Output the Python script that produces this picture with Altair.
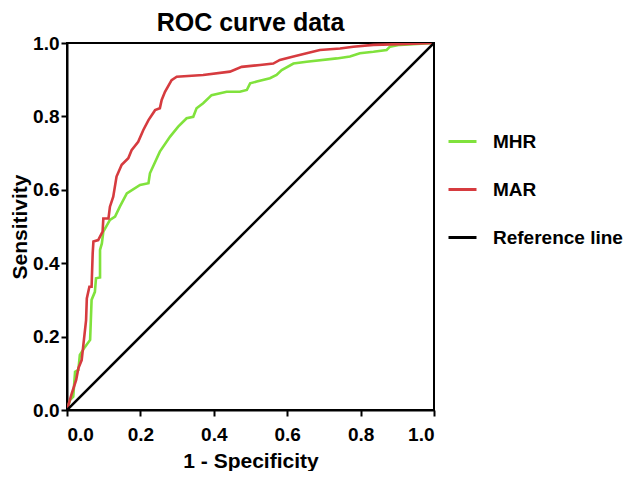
import altair as alt
import pandas as pd

# MAR ROC curve (1 - specificity, sensitivity)
mar_fpr = [0, 0.013, 0.025, 0.031, 0.040, 0.044, 0.052, 0.054, 0.061, 0.067, 0.070, 0.072,
           0.085, 0.097, 0.099, 0.113, 0.117, 0.126, 0.135, 0.149, 0.167, 0.176, 0.194, 0.208,
           0.222, 0.240, 0.253, 0.258, 0.267, 0.285, 0.299, 0.371, 0.444, 0.476, 0.526, 0.562,
           0.580, 0.617, 0.653, 0.689, 0.744, 0.780, 0.835, 0.907, 1.0]
mar_tpr = [0, 0.045, 0.082, 0.114, 0.136, 0.172, 0.245, 0.304, 0.336, 0.336, 0.427, 0.459,
           0.463, 0.486, 0.522, 0.522, 0.554, 0.581, 0.636, 0.668, 0.686, 0.708, 0.731, 0.763,
           0.790, 0.817, 0.822, 0.845, 0.867, 0.899, 0.908, 0.913, 0.922, 0.935, 0.940, 0.944,
           0.954, 0.963, 0.972, 0.981, 0.985, 0.990, 0.995, 0.997, 1.0]

# MHR ROC curve
mhr_fpr = [0, 0.008, 0.017, 0.022, 0.031, 0.035, 0.049, 0.063, 0.067, 0.076, 0.079, 0.090,
           0.090, 0.095, 0.099, 0.117, 0.131, 0.144, 0.163, 0.199, 0.222, 0.226, 0.253, 0.281,
           0.303, 0.326, 0.344, 0.353, 0.371, 0.394, 0.435, 0.471, 0.490, 0.499, 0.517, 0.553,
           0.571, 0.585, 0.617, 0.653, 0.735, 0.771, 0.798, 0.835, 0.871, 0.880, 0.907, 1.0]
mhr_tpr = [0, 0.027, 0.036, 0.104, 0.109, 0.150, 0.172, 0.191, 0.300, 0.322, 0.359, 0.361,
           0.436, 0.454, 0.486, 0.518, 0.527, 0.554, 0.590, 0.613, 0.618, 0.645, 0.704, 0.745,
           0.772, 0.795, 0.799, 0.822, 0.836, 0.858, 0.867, 0.867, 0.872, 0.890, 0.895, 0.904,
           0.913, 0.926, 0.944, 0.949, 0.958, 0.963, 0.972, 0.976, 0.981, 0.990, 0.995, 1.0]

# Reference line
ref_fpr = [0.0, 1.0]
ref_tpr = [0.0, 1.0]

series_names = ["MHR", "MAR", "Reference line"]
series_colors = ["#80E23C", "#D63B3F", "#000000"]
tick_values = [0.0, 0.2, 0.4, 0.6, 0.8, 1.0]

rows = []
for name, xs, ys in [("MHR", mhr_fpr, mhr_tpr), ("MAR", mar_fpr, mar_tpr),
                     ("Reference line", ref_fpr, ref_tpr)]:
    for i, (xv, yv) in enumerate(zip(xs, ys)):
        rows.append({"series": name, "fpr": xv, "tpr": yv, "idx": i})
df = pd.DataFrame(rows)

FONT = "Liberation Sans"

chart = alt.Chart(df).mark_line(strokeWidth=2.6, clip=True).encode(
    x=alt.X("fpr:Q", title="1 - Specificity",
            scale=alt.Scale(domain=[0, 1], nice=False),
            axis=alt.Axis(values=tick_values, format=".1f", labelPadding=9, titlePadding=6)),
    y=alt.Y("tpr:Q", title="Sensitivity",
            scale=alt.Scale(domain=[0, 1], nice=False),
            axis=alt.Axis(values=tick_values, format=".1f", labelPadding=2, titlePadding=2)),
    color=alt.Color("series:N",
                    scale=alt.Scale(domain=series_names, range=series_colors),
                    legend=alt.Legend(title=None, orient="none", legendX=380, legendY=83,
                                      symbolType="stroke", symbolSize=784,
                                      symbolStrokeWidth=3, labelOffset=15,
                                      rowPadding=22, padding=0,
                                      labelFont=FONT, labelFontSize=19,
                                      labelFontWeight="bold", labelColor="black")),
    detail="series:N",
    order="idx:Q",
).properties(
    width=367, height=367,
    title=alt.TitleParams("ROC curve data", font=FONT, fontSize=25, fontWeight="bold",
                          color="black", anchor="middle", offset=-2),
    autosize=alt.AutoSizeParams(type="none"),
    padding={"left": 59, "top": 35, "right": 190, "bottom": 61},
).configure_view(
    stroke="black", strokeWidth=2
).configure_axis(
    grid=False, domainColor="black", domainWidth=2, tickColor="black", tickWidth=2,
    tickSize=6, labelFont=FONT, labelFontSize=19, labelFontWeight="bold",
    labelColor="black", titleFont=FONT, titleFontSize=21, titleFontWeight="bold",
    titleColor="black"
)

chart.save("out.html", embed_options={"renderer": "svg", "actions": False})
